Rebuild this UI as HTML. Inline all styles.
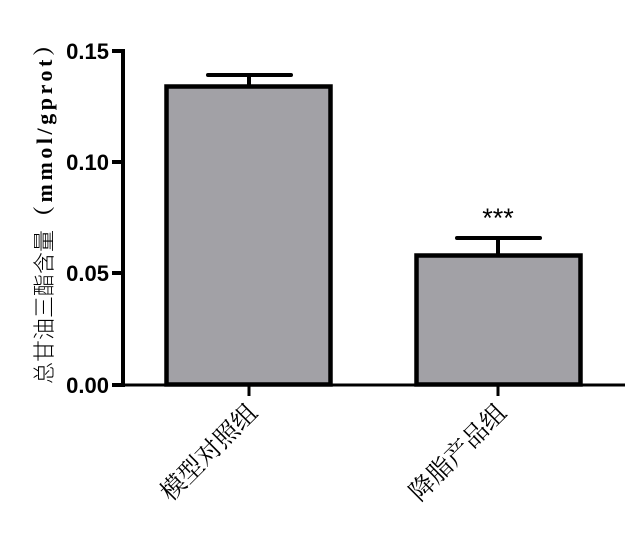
<!DOCTYPE html>
<html><head><meta charset="utf-8"><style>body{margin:0;background:#fff}</style></head><body>
<svg width="640" height="534" viewBox="0 0 640 534" xmlns="http://www.w3.org/2000/svg">
<rect width="640" height="534" fill="#fff"/>
<g stroke="#000" stroke-width="4" fill="none">
<line x1="123" y1="49" x2="123" y2="387"/>
<line x1="112" y1="51" x2="123" y2="51"/>
<line x1="112" y1="162" x2="123" y2="162"/>
<line x1="112" y1="273" x2="123" y2="273"/>
<line x1="112" y1="385" x2="123" y2="385"/>
</g>
<line x1="121" y1="385" x2="625" y2="385" stroke="#000" stroke-width="3"/>
<line x1="249" y1="385" x2="249" y2="396" stroke="#000" stroke-width="3"/>
<line x1="498" y1="385" x2="498" y2="396" stroke="#000" stroke-width="3"/>
<rect x="166.5" y="86.5" width="164" height="298" fill="#a2a1a6" stroke="#000" stroke-width="4.5"/>
<rect x="416.5" y="255.5" width="164" height="129" fill="#a2a1a6" stroke="#000" stroke-width="4.5"/>
<g stroke="#000" stroke-width="4" stroke-linecap="round">
<line x1="249" y1="75" x2="249" y2="85"/><line x1="208" y1="75" x2="291" y2="75"/>
<line x1="498" y1="238" x2="498" y2="254"/><line x1="457" y1="238" x2="540" y2="238"/>
</g>
<text x="498" y="227" font-family="Liberation Sans, sans-serif" font-size="27" text-anchor="middle">***</text>
<g font-family="Liberation Sans, sans-serif" font-weight="bold" font-size="22" text-anchor="end">
<text x="109" y="59">0.15</text>
<text x="109" y="170">0.10</text>
<text x="109" y="281">0.05</text>
<text x="109" y="393">0.00</text>
</g>
<text transform="translate(52,384) rotate(-90)" font-size="22" font-family="Noto Sans CJK SC, sans-serif" font-weight="300" textLength="154" lengthAdjust="spacingAndGlyphs">总甘油三酯含量</text>
<text transform="translate(52,228) rotate(-90)" font-size="22" font-family="Liberation Serif, Noto Serif CJK SC, serif" font-weight="bold" textLength="194" lengthAdjust="spacing">（mmol/gprot）</text>
<g font-family="Noto Serif CJK SC, serif" font-size="25" text-anchor="end">
<text transform="translate(259,414) rotate(-45)">模型对照组</text>
<text transform="translate(508,414) rotate(-45)">降脂产品组</text>
</g>
</svg>
</body></html>
